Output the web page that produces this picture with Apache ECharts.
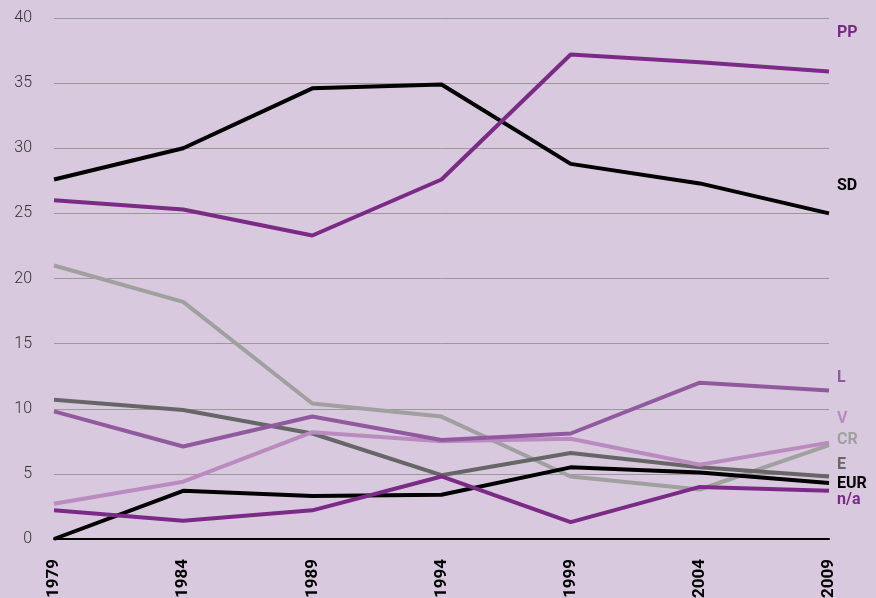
<!DOCTYPE html>
<html lang="en">
<head>
	<meta charset="UTF-8">
	<title>Chart</title>
	<script src="https://cdn.jsdelivr.net/npm/echarts@6/dist/echarts.min.js"></script>
	<style>
		* { margin: 0; padding: 0; }
		body, html, #main { width: 876px; height: 598px; background: #d9c9df; }
	</style>
</head>
<body>
	<div id="main"></div>
	<script>
		const years = ['1979', '1984', '1989', '1994', '1999', '2004', '2009'];

		const cr  = [21.0, 18.2, 10.4, 9.4, 4.8, 3.8, 7.2];
		const e   = [10.7, 9.9, 8.1, 4.9, 6.6, 5.5, 4.8];
		const v   = [2.7, 4.4, 8.2, 7.5, 7.7, 5.7, 7.4];
		const l   = [9.8, 7.1, 9.4, 7.6, 8.1, 12.0, 11.4];
		const eur = [0, 3.7, 3.3, 3.4, 5.5, 5.1, 4.3];
		const na  = [2.2, 1.4, 2.2, 4.8, 1.3, 4.0, 3.7];
		const sd  = [27.6, 30.0, 34.6, 34.9, 28.8, 27.3, 25.0];
		const pp  = [26.0, 25.3, 23.3, 27.6, 37.2, 36.6, 35.9];

		const chartDom = document.getElementById('main');
		const myChart = echarts.init(chartDom);

		function line(name, data, color) {
			return {
				name: name,
				type: 'line',
				data: data,
				showSymbol: false,
				symbol: 'none',
				lineStyle: { color: color, width: 4 },
				itemStyle: { color: color }
			};
		}

		// series name labels at the right edge
		const labels = [
			['PP', 33, '#7b2a86'],
			['SD', 186, '#000000'],
			['L', 378, '#925a9e'],
			['V', 419, '#b98bbf'],
			['CR', 440, '#a0a0a0'],
			['E', 465, '#666666'],
			['EUR', 484, '#000000'],
			['n/a', 500, '#7b2a86']
		];

		const option = {
			backgroundColor: '#d9c9df',
			animation: false,
			grid: { left: 54, right: 47, top: 18, bottom: 59, outerBoundsMode: 'none' },
			xAxis: {
				type: 'category',
				data: years,
				boundaryGap: false,
				axisLine: { lineStyle: { color: '#000', width: 2 } },
				axisTick: { show: false },
				axisLabel: {
					rotate: 90,
					margin: 20,
					color: '#000',
					fontFamily: 'Roboto',
					fontWeight: 'bold',
					fontSize: 17,
					interval: 0
				}
			},
			yAxis: {
				type: 'value',
				min: 0,
				max: 40,
				interval: 5,
				axisLine: { show: false },
				axisTick: { show: false },
				axisLabel: {
					margin: 22,
					color: '#333',
					fontFamily: 'Roboto',
					fontWeight: 300,
					fontSize: 16
				},
				splitLine: { lineStyle: { color: '#999', width: 1 } }
			},
			graphic: labels.map(function (d) {
				return {
					type: 'text',
					x: 837,
					y: d[1],
					style: {
						text: d[0],
						fill: d[2],
						font: 'bold 16px Roboto',
						verticalAlign: 'middle'
					}
				};
			}),
			series: [
				line('CR', cr, '#a0a0a0'),
				line('E', e, '#666666'),
				line('V', v, '#b98bbf'),
				line('L', l, '#925a9e'),
				line('EUR', eur, '#000000'),
				line('n/a', na, '#7b2a86'),
				line('SD', sd, '#000000'),
				line('PP', pp, '#7b2a86')
			]
		};

		option && myChart.setOption(option);
	</script>
</body>
</html>
